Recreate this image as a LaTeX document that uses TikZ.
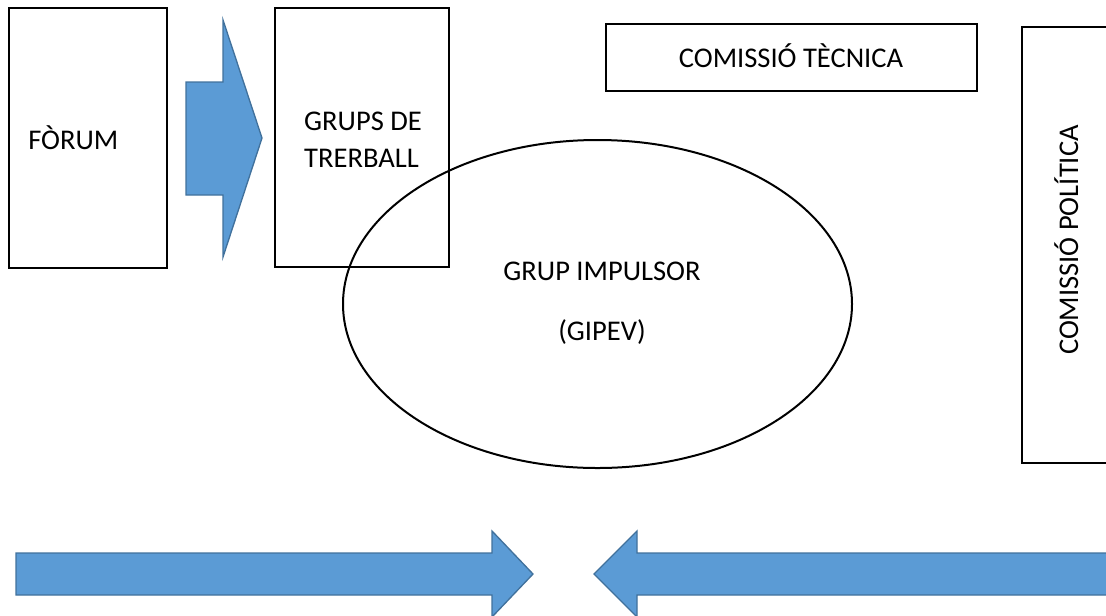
\documentclass[tikz,border=0pt]{standalone}
\usepackage{fontspec}
\setmainfont{Carlito}
\usepackage{tikz}
\usetikzlibrary{shapes}
\usetikzlibrary{positioning}
\definecolor{arrowblue}{HTML}{5B9BD5}
\definecolor{arrowedge}{HTML}{41719C}
\newcommand{\orgfont}{\fontsize{21.4}{27.75}\selectfont}
\newcommand{\boxnode}{\node[rectangle,draw=black,line width=1.1pt,inner sep=0pt]}
\newcommand{\txtnode}{\node[inner sep=0pt,font=\orgfont]}
\newcommand{\blockarrow}{\draw[fill=arrowblue,draw=arrowedge,line width=1pt,line join=miter]}

\begin{document}
\begin{tikzpicture}[x=0.75pt,y=-0.75pt]
      \clip (0,0) rectangle (1106,615);
      \boxnode (forum) at (88,138) [minimum width=118.5pt,minimum height=195pt] {}; %
      \boxnode (grups) at (362,137.5) [minimum width=130.5pt,minimum height=194.25pt] {}; %
      \boxnode (tecnica) at (791.5,57.5) [minimum width=278.25pt,minimum height=50.25pt] {}; %
      \boxnode (politica) at (1081,245) [minimum width=88.5pt,minimum height=327pt] {}; %
      \node[ellipse,draw=black,line width=1.5pt,inner sep=0pt,
            minimum width=381.75pt,minimum height=246pt] (gipev) at (597.5,304) {}; %
      \txtnode[anchor=base west] (forumtxt) at (28,149) {FÒRUM};
      \txtnode[align=left] (grupstxt) at (363,139.5) {GRUPS DE\\TRERBALL};
      \txtnode[align=center,font=\fontsize{21.4}{45}\selectfont] (gipevtxt) at (602,303) {GRUP IMPULSOR\\(GIPEV)};
      \txtnode[anchor=base] (tecnicatxt) at (791,67) {COMISSIÓ TÈCNICA};
      \txtnode[anchor=base,rotate=90] (politicatxt) at (1078,240) {COMISSIÓ POLÍTICA};
      % block arrows
      \blockarrow (186,82) -- (223,82) -- (223,20) -- (262,138) -- (223,257) -- (223,195) -- (186,195) -- cycle;
      \blockarrow (16,553) -- (492,553) -- (492,531) -- (533,574) -- (492,617) -- (492,595) -- (16,595) -- cycle;
      \blockarrow (1120,553) -- (637,553) -- (637,531) -- (594,574) -- (637,617) -- (637,595) -- (1120,595) -- cycle;
\end{tikzpicture}
\end{document}
